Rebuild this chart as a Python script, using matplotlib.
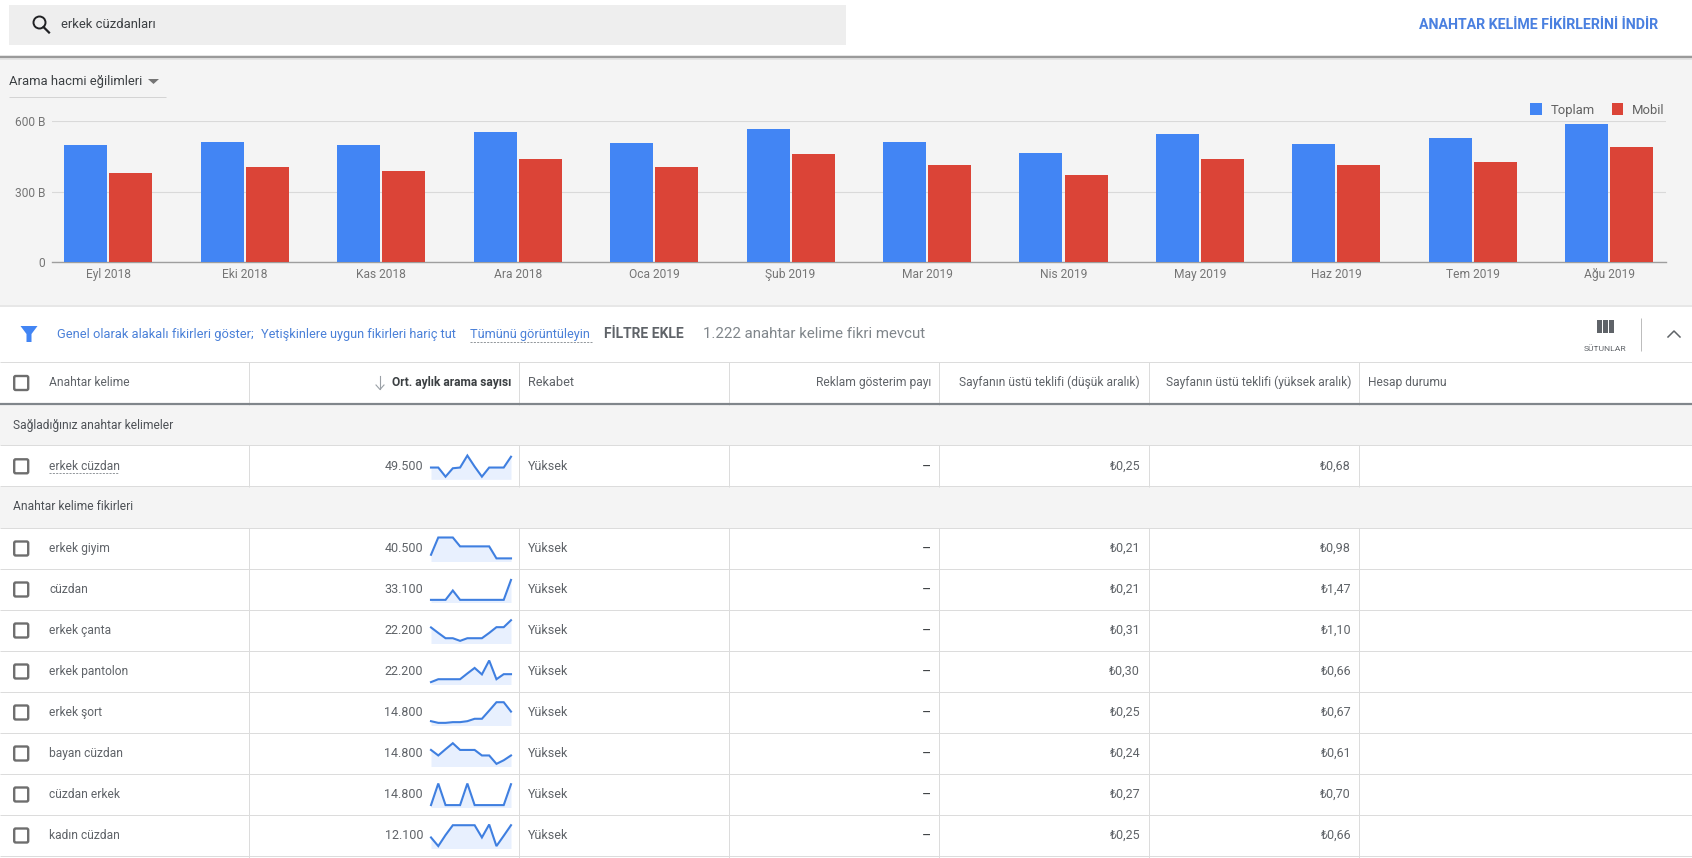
import matplotlib
matplotlib.use('Agg')
import matplotlib.pyplot as plt
from matplotlib.patches import Rectangle, Circle, FancyBboxPatch, Polygon

plt.rcParams['font.family'] = ['Roboto', 'DejaVu Sans']

W, H = 1692, 858
BLUE = '#4285f4'
RED = '#db4437'
PANEL = '#f4f4f4'
LINE = '#dcdcdc'
TEXT = '#5f6368'

# Trend chart data (thousands)
months = ['Eyl 2018', 'Eki 2018', 'Kas 2018', 'Ara 2018', 'Oca 2019', 'Şub 2019',
          'Mar 2019', 'Nis 2019', 'May 2019', 'Haz 2019', 'Tem 2019', 'Ağu 2019']
total = [500, 513, 500, 556, 509, 566, 513, 465, 547, 505, 530, 590]
mobile = [381, 403, 390, 441, 407, 462, 414, 373, 441, 414, 428, 492]
y_ticks = [0, 300, 600]
y_labels = ['0', '300 B', '600 B']

# Table data
seed_keyword = 'erkek cüzdan'
seed_search = '49.500'
seed_low = '₺0,25'
seed_high = '₺0,68'
seed_spark = [.49, .49, .11, .46, .49, .99, .53, .11, .49, .49, .49, .94]

keywords = ['erkek giyim', 'cüzdan', 'erkek çanta', 'erkek pantolon', 'erkek şort',
            'bayan cüzdan', 'cüzdan erkek', 'kadın cüzdan']
searches = ['40.500', '33.100', '22.200', '22.200', '14.800', '14.800', '14.800', '12.100']
low_bids = ['₺0,21', '₺0,21', '₺0,31', '₺0,30', '₺0,25', '₺0,24', '₺0,27', '₺0,25']
high_bids = ['₺0,98', '₺1,47', '₺1,10', '₺0,66', '₺0,67', '₺0,61', '₺0,70', '₺0,66']
sparks = [
    [.28, 1, 1, 1, .63, .63, .63, .63, .63, .13, .13, .13],
    [.11, .11, .11, .50, .11, .11, .11, .11, .11, .11, .11, .94],
    [.67, .44, .22, .22, .11, .22, .22, .22, .44, .68, .68, .97],
    [.10, .22, .22, .22, .22, .46, .69, .42, 1, .22, .43, .43],
    [.18, .11, .11, .14, .14, .18, .28, .28, .62, .97, .97, .58],
    [.69, .46, .72, .97, .69, .69, .69, .46, .46, .11, .26, .46],
    [.10, 1, .10, .10, .10, 1, .10, .10, .10, .10, .10, .97],
    [.46, .10, .56, .97, .97, .97, .97, .46, 1, .10, .53, .97],
]


def px_axes(x0, y0, x1, y1):
    # axes from pixel box, y measured from the top of the image
    return fig.add_axes([x0 / W, 1 - y1 / H, (x1 - x0) / W, (y1 - y0) / H])


def label(x, y, s, px=12.5, color=TEXT, ha='left', **kw):
    return bg.text(x, y, s, fontsize=px * 0.72, color=color, ha=ha, va='center', **kw)


def hline(y, x0=0, x1=W, color=LINE, lw=1.0, **kw):
    bg.plot([x0, x1], [y, y], color=color, lw=lw * 0.72, solid_capstyle='butt', **kw)


def vline(x, y0, y1, color=LINE, lw=1.0):
    bg.plot([x, x], [y0, y1], color=color, lw=lw * 0.72, solid_capstyle='butt')


def checkbox(cy):
    bg.add_patch(FancyBboxPatch((14.2, cy - 7), 14, 14, boxstyle='round,pad=0,rounding_size=1.5',
                                fc='white', ec='#6e6e6e', lw=1.7))


def spark(row_top, values):
    ax = px_axes(431, row_top + 10, 511, row_top + 34)
    ax.set_xlim(0, len(values) - 1)
    ax.set_ylim(0, 1)
    ax.axis('off')
    xs = list(range(len(values)))
    ax.fill_between(xs, values, 0, color='#e8f0fe', lw=0)
    ax.plot(xs, values, color='#3f7fe0', lw=1.5, clip_on=False, solid_joinstyle='miter')


def table_row(row_top, keyword, search, low, high, values):
    cy = row_top + 21
    checkbox(cy)
    label(49, cy, keyword, px=12)
    label(423, cy, search, ha='right')
    label(528, cy, 'Yüksek')
    label(931, cy + 1.5, '–', px=14, color='#3c4043', ha='right')
    label(1140, cy, low, ha='right')
    label(1351, cy, high, ha='right')
    hline(row_top + 41)
    spark(row_top, values)


fig = plt.figure(figsize=(W / 100, H / 100), dpi=100, facecolor='white')
bg = fig.add_axes([0, 0, 1, 1])
bg.set_xlim(0, W)
bg.set_ylim(H, 0)
bg.axis('off')

# Top search bar
bg.add_patch(Rectangle((9, 5), 837, 40, fc='#eeeeee', lw=0))
bg.add_patch(Circle((39.5, 22.5), 6, fc='none', ec='#202124', lw=1.4))
bg.plot([43.5, 49], [27, 32.5], color='#202124', lw=1.6)
label(61, 25, 'erkek cüzdanları', px=13, color='#3c4043')
label(1658, 25, 'ANAHTAR KELİME FİKİRLERİNİ İNDİR', px=14.15, color='#4a80e0', ha='right', fontweight='bold')

# Chart panel
bg.add_patch(Rectangle((0, 58), W, 247, fc=PANEL, lw=0))
hline(57, color='#9a9a9a', lw=2.5)
hline(59, color='#dedede', lw=1.5)
hline(305.5, color='#e0e0e0', lw=1.5)
label(9, 81, 'Arama hacmi eğilimleri', px=13, color='#3c4043')
bg.add_patch(Polygon([(148, 79), (159, 79), (153.5, 84)], fc='#757575', lw=0))
hline(96.5, 9, 166, color='#d4d4d4')

chart = px_axes(51.6, 121.2, 1665.6, 262.2)
chart.patch.set_alpha(0)
x_pos = list(range(len(months)))
bar_w = 0.315
chart.bar([x - 0.165 for x in x_pos], total, bar_w, color=BLUE, label='Toplam', zorder=3)
chart.bar([x + 0.165 for x in x_pos], mobile, bar_w, color=RED, label='Mobil', zorder=3)
chart.set_xlim(-0.415, 11.412)
chart.set_ylim(0, 600)
chart.set_xticks(x_pos, months)
chart.set_yticks(y_ticks, y_labels)
chart.tick_params(length=0, labelsize=12 * 0.72, labelcolor='#757575')
chart.tick_params(axis='x', pad=4.4)
chart.tick_params(axis='y', pad=4.4)
chart.grid(axis='y', color='#d9d9d9', lw=0.8, zorder=0)
for side in ['top', 'left', 'right']:
    chart.spines[side].set_visible(False)
chart.spines['bottom'].set_color('#9e9e9e')
chart.spines['bottom'].set_linewidth(1.0)
chart.legend(loc='lower right', bbox_to_anchor=(1.002, 1.0), ncol=2, frameon=False,
             fontsize=13 * 0.72, labelcolor='#616161', handlelength=0.85, handleheight=1.1,
             handletextpad=0.7, columnspacing=1.3, borderpad=0, borderaxespad=0.35)

# Filter bar
bg.add_patch(Polygon([(20.5, 326), (37.5, 326), (31.5, 334), (31.5, 342), (26.5, 342), (26.5, 334)],
                     fc=BLUE, lw=0))
label(57, 334.5, 'Genel olarak alakalı fikirleri göster;', px=12.85, color='#4a80d8')
label(261, 334.5, 'Yetişkinlere uygun fikirleri hariç tut', px=12.8, color='#4a80d8')
label(470, 334.5, 'Tümünü görüntüleyin', px=12.75, color='#4a80d8')
bg.plot([470, 591.5], [341.5, 341.5], color='#80868b', lw=0.6, ls=(0, (2.5, 1.5)))
label(603.5, 334.5, 'FİLTRE EKLE', px=13.9, color='#5f6368', fontweight='bold')
label(703, 334.5, '1.222 anahtar kelime fikri mevcut', px=15, color='#80868b')
for col_x in [1597, 1603, 1609]:
    bg.add_patch(Rectangle((col_x, 320), 4.5, 13, fc='#5f6368', lw=0))
label(1604.5, 348.5, 'SÜTUNLAR', px=8.5, color='#5f6368', ha='center')
vline(1641, 318, 351, color='#bdbdbd')
bg.plot([1668, 1674, 1680], [337, 331, 337], color='#5f6368', lw=1.1)

# Table header
hline(362)
cols = [248.8, 519, 729, 939, 1149, 1359]
bg.add_patch(Rectangle((0, 405), W, 40, fc=PANEL, lw=0))
bg.add_patch(Rectangle((0, 487), W, 40.5, fc=PANEL, lw=0))
for x in cols:
    vline(x, 362, 405)
    vline(x, 445, 487)
    vline(x, 527.5, H)
checkbox(383)
label(49, 382.7, 'Anahtar kelime', px=12)
label(511, 382.7, 'Ort. aylık arama sayısı', px=12, color='#3c4043', ha='right', fontweight='bold')
bg.plot([380, 380], [376, 389], color='#9aa0a6', lw=0.8)
bg.plot([376, 380, 384], [385, 389.5, 385], color='#9aa0a6', lw=0.8)
label(528, 382.7, 'Rekabet', px=12.7)
label(931, 382.7, 'Reklam gösterim payı', px=12, ha='right')
label(1140, 382.7, 'Sayfanın üstü teklifi (düşük aralık)', px=12, ha='right')
label(1351, 382.7, 'Sayfanın üstü teklifi (yüksek aralık)', px=12, ha='right')
label(1367.5, 382.7, 'Hesap durumu', px=12)
hline(404, color='#80868b', lw=2.2)

# Table rows
label(13, 425.5, 'Sağladığınız anahtar kelimeler', px=12, color='#4d5156')
hline(445.3)
table_row(445.3, seed_keyword, seed_search, seed_low, seed_high, seed_spark)
bg.plot([49, 119], [473, 473], color='#80868b', lw=0.6, ls=(0, (2.5, 1.5)))
label(13, 507, 'Anahtar kelime fikirleri', px=12, color='#4d5156')
hline(527.5)
for i in range(len(keywords)):
    table_row(527.5 + 41 * i, keywords[i], searches[i], low_bids[i], high_bids[i], sparks[i])

fig.savefig('out.png', dpi=100, facecolor='white')
